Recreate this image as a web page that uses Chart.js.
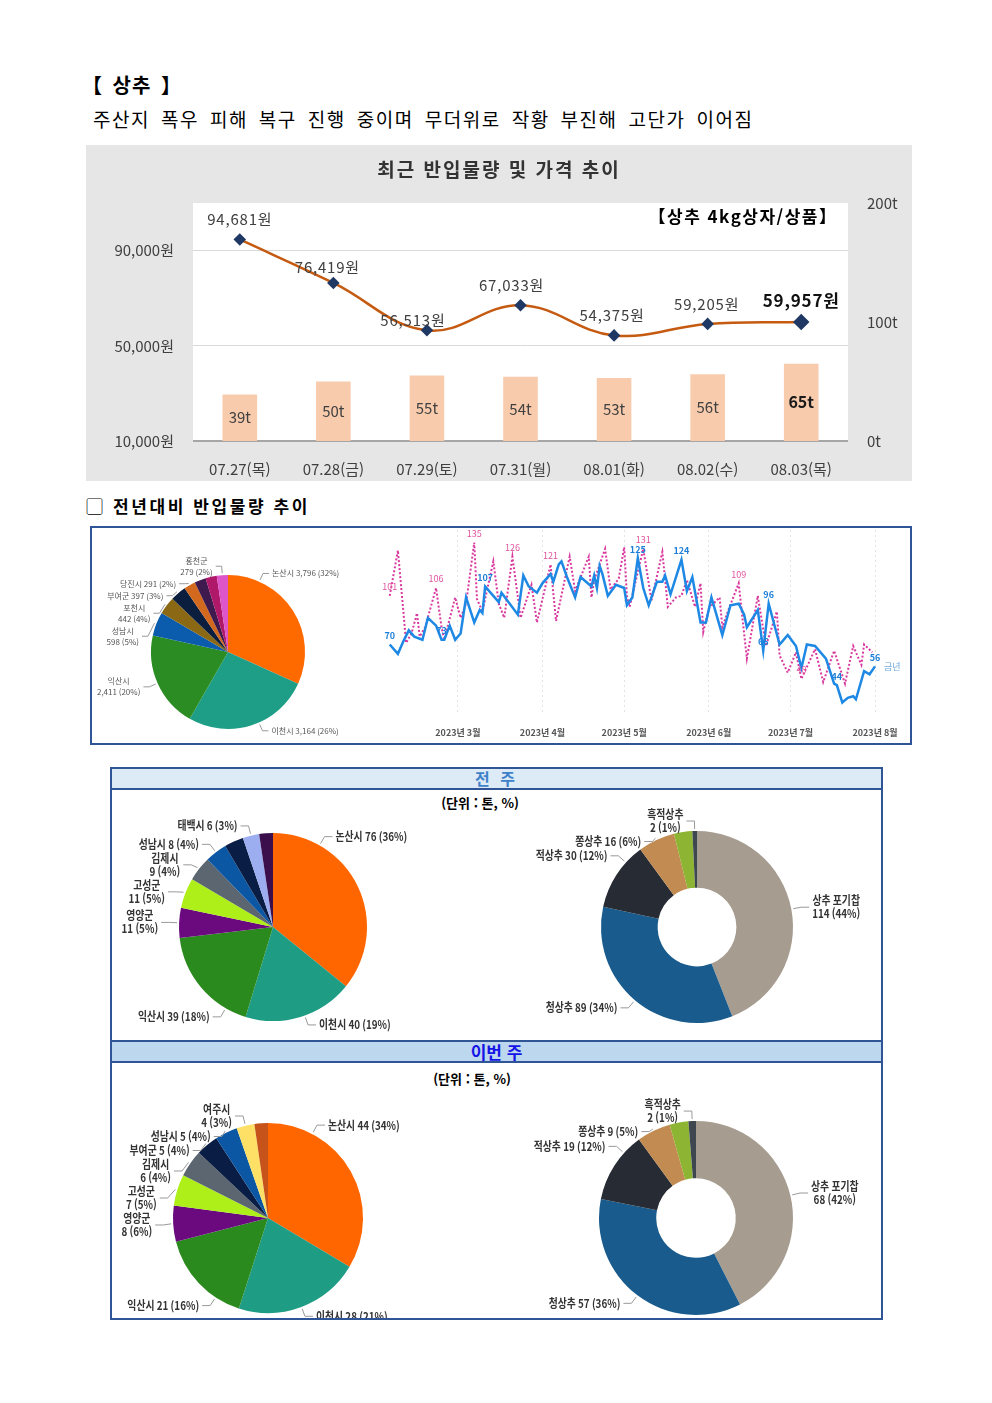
<!DOCTYPE html>
<html lang="ko">
<head>
<meta charset="utf-8">
<script src="https://cdn.jsdelivr.net/npm/chart.js@4.4.0/dist/chart.umd.min.js"></script>
<style>
  html, body { margin: 0; padding: 0; background: #fff; }
  body { width: 992px; height: 1403px; position: relative; font-family: 'Noto Sans CJK KR', 'Noto Sans', sans-serif; color: #000; }
  .abs { position: absolute; }
  .box { position: absolute; box-sizing: border-box; }
  #title { left: 82px; top: 72px; font-size: 20px; font-weight: bold; line-height: 26px; word-spacing: 3px; letter-spacing: 1px; }
  #sub { left: 93px; top: 106px; font-size: 19px; line-height: 26px; letter-spacing: 1.55px; word-spacing: 4px; }
  #grayBox { left: 86px; top: 145px; width: 826px; height: 336px; background: #E6E6E6; }
  #c1Title { left: 86px; width: 826px; top: 156px; text-align: center; font-size: 19px; font-weight: bold; line-height: 26px; letter-spacing: 2px; color: #333; z-index: 2; }
  #c1Tag { left: 620px; width: 246px; top: 203px; text-align: center; font-size: 17px; font-weight: bold; line-height: 26px; letter-spacing: 1.5px; z-index: 2; }
  #sec2 { left: 86px; top: 493px; font-size: 17px; font-weight: bold; line-height: 26px; letter-spacing: 2.6px; }
  #box2 { left: 90px; top: 526px; width: 822px; height: 219px; border: 2px solid #2F5597; }
  #box3 { left: 110px; top: 767px; width: 773px; height: 553px; border: 2px solid #2F5597; }
  .hdr { position: absolute; left: 112px; width: 769px; text-align: center; font-weight: bold; }
  #hdr1 { top: 769px; height: 19px; line-height: 19px; background: #DDEBF7; color: #3F82C9; font-size: 16px; letter-spacing: 3px; }
  #hdr2 { top: 1042px; height: 19px; line-height: 19px; background: #BDD7EE; color: #1414E6; font-size: 17px; }
  .rule { position: absolute; left: 110px; width: 773px; height: 2px; background: #2F5597; }
  .unit { position: absolute; font-size: 13px; font-weight: bold; line-height: 18px; text-align: center; width: 200px; }
  .wrap { position: absolute; }
</style>
</head>
<body>
<div id="title" class="abs">【 상추 】</div>
<div id="sub" class="abs">주산지 폭우 피해 복구 진행 중이며 무더위로 작황 부진해 고단가 이어짐</div>

<div id="grayBox" class="box"></div>
<div id="c1Title" class="abs">최근 반입물량 및 가격 추이</div>
<div id="c1Tag" class="abs">【상추 4kg상자/상품】</div>
<div class="wrap" style="left:86px;top:145px;width:826px;height:336px;"><canvas id="combo"></canvas></div>

<div id="sec2" class="abs">▢ 전년대비 반입물량 추이</div>
<div id="box2" class="box"></div>
<div class="wrap" style="left:92px;top:528px;width:290px;height:215px;"><canvas id="yearPie"></canvas></div>
<div class="wrap" style="left:383px;top:528px;width:527px;height:215px;"><canvas id="yearLine"></canvas></div>

<div id="box3" class="box"></div>
<div id="hdr1" class="hdr">전 주</div>
<div class="rule" style="top:788px;"></div>
<div class="unit" style="left:380px;top:794px;">(단위 : 톤, %)</div>
<div class="rule" style="top:1040px;"></div>
<div id="hdr2" class="hdr">이번 주</div>
<div class="rule" style="top:1061px;"></div>
<div class="unit" style="left:372px;top:1070px;">(단위 : 톤, %)</div>
<div class="wrap" style="left:112px;top:808px;width:360px;height:230px;"><canvas id="lastWeekPie"></canvas></div>
<div class="wrap" style="left:480px;top:808px;width:400px;height:230px;"><canvas id="lastWeekKind"></canvas></div>
<div class="wrap" style="left:112px;top:1085px;width:360px;height:233px;"><canvas id="thisWeekPie"></canvas></div>
<div class="wrap" style="left:480px;top:1085px;width:400px;height:233px;"><canvas id="thisWeekKind"></canvas></div>

<script>
// ---- 최근 반입물량 및 가격 추이 ----
const dayLabels = ['07.27(목)', '07.28(금)', '07.29(토)', '07.31(월)', '08.01(화)', '08.02(수)', '08.03(목)'];
const volumeTons = [39, 50, 55, 54, 53, 56, 65];
const pricesWon = [94681, 76419, 56513, 67033, 54375, 59205, 59957];
const priceTicks = [10000, 50000, 90000];

// ---- 전년대비 반입물량 (산지별 누적) ----
const yearRegions = ['논산시', '이천시', '익산시', '성남시', '포천시', '부여군', '당진시', '', '', '홍천군'];
const yearRegionTons = [3796, 3164, 2411, 598, 442, 397, 291, 285, 282, 279];
const yearRegionPct = [32, 26, 20, 5, 4, 3, 2, null, null, 2];

// ---- 전년대비 반입물량 추이 (일자: 3월 1일 = 0) ----
const monthTickDays = [0, 31, 61, 92, 122, 153];
const monthTickLabels = ['2023년 3월', '2023년 4월', '2023년 5월', '2023년 6월', '2023년 7월', '2023년 8월'];
const thisYearDays = [-25, -22, -20, -18, -16, -13, -11, -8, -6, -5, -3, -1, 1, 3, 6, 8, 9, 10, 13, 15, 16, 22, 24, 26, 29, 31,
  34, 35, 37, 38, 40, 43, 45, 49, 50, 51, 52, 53, 55, 58, 61, 62, 64, 66, 68, 70, 73, 75, 76, 78, 82, 84, 86, 89, 91, 93,
  97, 100, 103, 105, 106, 110, 112, 114, 118, 119, 121, 124, 126, 128, 131, 135, 138, 139, 141, 143, 145, 146, 149, 151, 153];
const thisYearTons = [70, 64, 72, 79, 75, 73, 87, 82, 73, 73, 82, 73, 77, 100, 84, 92, 90, 107, 101, 97, 103, 89, 114, 107, 103, 109,
  115, 110, 121, 123, 113, 100, 113, 107, 114, 106, 120, 115, 101, 108, 106, 95, 100, 125, 106, 95, 110, 110, 114, 102, 124, 104, 113, 84, 84, 100,
  76, 95, 96, 89, 81, 92, 66, 96, 70, 72, 76, 69, 55, 70, 69, 61, 45, 44, 33, 36, 37, 35, 53, 51, 56];
const lastYearDays = [-25, -22, -20, -19, -17, -15, -14, -12, -8, -6, -5, -1, 1, 3, 6, 7, 9, 13, 15, 17, 20, 23, 27, 29, 34, 36,
  41, 43, 48, 49, 50, 54, 56, 59, 61, 62, 63, 68, 71, 75, 77, 80, 82, 84, 87, 89, 90, 92, 96, 97, 99, 103, 106, 110, 113,
  117, 118, 121, 124, 126, 131, 134, 138, 142, 145, 148, 149, 152];
const lastYearTons = [101, 130, 91, 71, 77, 90, 75, 81, 106, 81, 73, 100, 87, 96, 135, 99, 91, 123, 96, 87, 126, 87, 108, 84, 121, 85,
  126, 104, 126, 100, 111, 131, 105, 112, 132, 101, 94, 131, 98, 129, 94, 100, 101, 111, 94, 109, 78, 93, 100, 81, 91, 109, 61, 101, 69,
  91, 63, 52, 65, 48, 67, 46, 66, 45, 69, 57, 70, 65];
const thisYearTagged = [-25, -6, 10, 66, 82, 112, 114, 139, 153];
const lastYearTagged = [-25, -8, 6, 20, 34, 68, 103, 126];

// ---- 전주 / 이번 주 산지별, 품종별 ----
const lastWeekRegions = ['논산시', '이천시', '익산시', '영양군', '고성군', '김제시', '성남시', '', '태백시', ''];
const lastWeekRegionTons = [76, 40, 39, 11, 11, 9, 8, 7, 6, 5];
const lastWeekRegionPct = [36, 19, 18, 5, 5, 4, 4, null, 3, null];
const lastWeekKinds = ['상추 포기찹', '청상추', '적상추', '쫑상추', '', '흑적상추'];
const lastWeekKindTons = [114, 89, 30, 16, 8, 2];
const lastWeekKindPct = [44, 34, 12, 6, null, 1];

const thisWeekRegions = ['논산시', '이천시', '익산시', '영양군', '고성군', '김제시', '부여군', '성남시', '여주시', ''];
const thisWeekRegionTons = [44, 28, 21, 8, 7, 6, 5, 5, 4, 3];
const thisWeekRegionPct = [34, 21, 16, 6, 5, 4, 4, 4, 3, null];
const thisWeekKinds = ['상추 포기찹', '청상추', '적상추', '쫑상추', '', '흑적상추'];
const thisWeekKindTons = [68, 57, 19, 9, 5, 2];
const thisWeekKindPct = [42, 36, 12, 5, null, 1];

const FONT = "'Noto Sans CJK KR', 'Noto Sans', sans-serif";
Chart.defaults.font.family = FONT;
Chart.defaults.animation = false;
Chart.defaults.plugins.legend.display = false;
Chart.defaults.plugins.tooltip.enabled = false;

const fmt = v => v.toLocaleString('en-US');

// 파이 조각 이름 + 값 + 비율 문자열 (wrap 목록에 있으면 두 줄)
function sliceTexts(names, vals, pcts, wrap) {
  return names.map((n, i) => n ? n + (wrap.includes(n) ? '\n' : ' ') + fmt(vals[i]) + ' (' + pcts[i] + '%)' : '');
}

// 파이 바깥 라벨 + 지시선 (anchor: 조각 안에서 지시선이 붙는 위치, 기본 0.5)
const outLabels = {
  id: 'outLabels',
  afterDatasetsDraw(chart, args, o) {
    if (!o || !o.texts) return;
    const ctx = chart.ctx;
    const items = [];
    chart.getDatasetMeta(0).data.forEach((arc, i) => {
      const t = o.texts[i];
      if (!t) return;
      const f = o.anchor && o.anchor[i] != null ? o.anchor[i] : 0.5;
      const a = arc.startAngle + (arc.endAngle - arc.startAngle) * f;
      const r = arc.outerRadius;
      const c = Math.cos(a), s = Math.sin(a);
      items.push({
        right: c >= 0,
        lines: t.split('\n'),
        x0: arc.x + c * (r + 2), y0: arc.y + s * (r + 2),
        x1: arc.x + c * (r + o.elbow), y: arc.y + s * (r + o.elbow)
      });
    });
    [true, false].forEach(side => {
      const list = items.filter(it => it.right === side).sort((p, q) => p.y - q.y);
      for (let k = 1; k < list.length; k++) {
        const gap = (list[k - 1].lines.length + list[k].lines.length) / 2 * o.lineHeight + 1;
        if (list[k].y - list[k - 1].y < gap) list[k].y = list[k - 1].y + gap;
      }
    });
    ctx.save();
    ctx.strokeStyle = o.lineColor;
    ctx.lineWidth = 1;
    ctx.fillStyle = o.color;
    ctx.font = o.font;
    ctx.textAlign = 'center';
    ctx.textBaseline = 'middle';
    items.forEach(it => {
      const dir = it.right ? 1 : -1;
      const x2 = it.x1 + dir * o.arm;
      ctx.beginPath();
      ctx.moveTo(it.x0, it.y0);
      ctx.lineTo(it.x1, it.y);
      ctx.lineTo(x2, it.y);
      ctx.stroke();
      const w = Math.max(...it.lines.map(l => ctx.measureText(l).width)) * o.squeeze;
      const cx = x2 + dir * (3 + w / 2);
      it.lines.forEach((l, k) => {
        const ly = it.y + (k - (it.lines.length - 1) / 2) * o.lineHeight;
        ctx.save();
        ctx.translate(cx, ly);
        ctx.scale(o.squeeze, 1);
        ctx.fillText(l, 0, 0);
        ctx.restore();
      });
    });
    ctx.restore();
  }
};

// 막대/선 값 표시
const priceLift = [20, 16, 10, 20, 20, 20, 22];
const priceShift = [0, -6, -14, -9, -2, -1, 0];
const comboLabels = {
  id: 'comboLabels',
  afterDatasetsDraw(chart) {
    const ctx = chart.ctx;
    ctx.save();
    ctx.textAlign = 'center';
    ctx.textBaseline = 'middle';
    const bars = chart.getDatasetMeta(1).data;
    bars.forEach((b, i) => {
      const last = i === bars.length - 1;
      ctx.font = (last ? 'bold 16px ' : '15px ') + FONT;
      ctx.fillStyle = last ? '#1a1a1a' : '#404040';
      ctx.fillText(volumeTons[i] + 't', b.x, (b.y + b.base) / 2);
    });
    const pts = chart.getDatasetMeta(0).data;
    ctx.letterSpacing = '0.8px';
    pts.forEach((p, i) => {
      const last = i === pts.length - 1;
      ctx.font = (last ? 'bold 17px ' : '15px ') + FONT;
      ctx.fillStyle = last ? '#111' : '#404040';
      ctx.fillText(fmt(pricesWon[i]) + '원', p.x + priceShift[i], p.y - priceLift[i]);
    });
    ctx.restore();
  }
};

new Chart(document.getElementById('combo'), {
  type: 'bar',
  data: {
    labels: dayLabels,
    datasets: [{
      type: 'line',
      data: pricesWon,
      yAxisID: 'y',
      order: 0,
      borderColor: '#C55A11',
      borderWidth: 2.5,
      tension: 0.4,
      pointStyle: 'rectRot',
      pointRadius: [4.5, 4.5, 4.5, 4.5, 4.5, 4.5, 6.5],
      pointBackgroundColor: '#1F3864',
      pointBorderColor: '#1F3864'
    }, {
      type: 'bar',
      data: volumeTons,
      yAxisID: 'y1',
      order: 1,
      backgroundColor: '#F8CBAD',
      barPercentage: 0.37,
      categoryPercentage: 1
    }]
  },
  options: {
    responsive: true,
    maintainAspectRatio: false,
    layout: { padding: { top: 58, left: 0, right: 0, bottom: 0 } },
    scales: {
      x: {
        afterFit: s => { s.height = 40; },
        grid: { display: false },
        border: { display: false },
        ticks: { font: { size: 15 }, color: '#404040', padding: 11 }
      },
      y: {
        position: 'left',
        min: 10000, max: 110000,
        afterBuildTicks: s => { s.ticks = priceTicks.map(v => ({ value: v })); },
        afterFit: s => { s.width = 107; },
        grid: {
          color: c => (c.tick && c.tick.value === 10000 ? '#A6A6A6' : '#D9D9D9'),
          lineWidth: c => (c.tick && c.tick.value === 10000 ? 2 : 1),
          drawTicks: false
        },
        border: { display: false },
        ticks: { callback: v => fmt(v) + '원', font: { size: 15 }, color: '#404040', padding: 19 }
      },
      y1: {
        position: 'right',
        min: 0, max: 200,
        ticks: { stepSize: 100, callback: v => v + 't', font: { size: 15 }, color: '#404040', padding: 19 },
        afterFit: s => { s.width = 64; },
        grid: { display: false, drawTicks: false },
        border: { display: false }
      }
    }
  },
  plugins: [comboLabels, {
    id: 'plotBg',
    beforeDraw(chart) {
      const a = chart.chartArea, ctx = chart.ctx;
      ctx.save();
      ctx.fillStyle = '#fff';
      ctx.fillRect(a.left, a.top, a.right - a.left, a.bottom - a.top);
      ctx.restore();
    }
  }]
});

// 전년대비 산지별 파이
new Chart(document.getElementById('yearPie'), {
  type: 'pie',
  data: {
    labels: yearRegions,
    datasets: [{
      data: yearRegionTons,
      backgroundColor: ['#FF6A00', '#1E9E86', '#2A8C22', '#0B5CAD', '#8B6914', '#0C1E3E', '#D2691E', '#3E1A4E', '#B0186A', '#DD55C8'],
      borderWidth: 0
    }]
  },
  options: {
    responsive: true,
    maintainAspectRatio: false,
    layout: { padding: { top: 47, bottom: 14, left: 59, right: 77 } },
    plugins: {
      outLabels: {
        texts: sliceTexts(yearRegions, yearRegionTons, yearRegionPct, ['익산시', '성남시', '포천시', '홍천군']),
        anchor: [0.21, 0.44],
        font: '8px ' + FONT, color: '#555', lineColor: '#999', lineHeight: 11, elbow: 9, arm: 6, squeeze: 1
      }
    }
  },
  plugins: [outLabels]
});

// 전년대비 추이 (금년 / 전년)
const pointTags = {
  id: 'pointTags',
  afterDatasetsDraw(chart) {
    const ctx = chart.ctx;
    ctx.save();
    ctx.textAlign = 'center';
    ctx.textBaseline = 'middle';
    const sets = [
      { idx: 1, days: lastYearTagged, font: '9px ' + FONT, color: '#E0559F' },
      { idx: 0, days: thisYearTagged, font: 'bold 9px ' + FONT, color: '#1E7FD8' }
    ];
    sets.forEach(s => {
      const ds = chart.data.datasets[s.idx];
      const meta = chart.getDatasetMeta(s.idx);
      ctx.font = s.font;
      ctx.fillStyle = s.color;
      s.days.forEach(d => {
        const i = ds.data.findIndex(p => p.x === d);
        if (i < 0) return;
        const el = meta.data[i];
        ctx.fillText(String(ds.data[i].y), el.x, el.y - 9);
      });
    });
    const meta0 = chart.getDatasetMeta(0).data;
    const tail = meta0[meta0.length - 1];
    ctx.font = '9px ' + FONT;
    ctx.fillStyle = '#6FA8DC';
    ctx.textAlign = 'left';
    ctx.fillText('금년', tail.x + 9, tail.y);
    ctx.restore();
  }
};

new Chart(document.getElementById('yearLine'), {
  type: 'line',
  data: {
    datasets: [{
      data: thisYearDays.map((d, i) => ({ x: d, y: thisYearTons[i] })),
      borderColor: '#1E88E5',
      borderWidth: 2.5,
      pointRadius: 0,
      tension: 0
    }, {
      data: lastYearDays.map((d, i) => ({ x: d, y: lastYearTons[i] })),
      borderColor: '#D9399E',
      borderWidth: 2,
      borderDash: [2, 2],
      pointRadius: 0,
      tension: 0
    }]
  },
  options: {
    responsive: true,
    maintainAspectRatio: false,
    layout: { padding: { top: 2, left: 4, right: 25, bottom: 0 } },
    scales: {
      x: {
        type: 'linear',
        min: -26, max: 156,
        afterBuildTicks: s => { s.ticks = monthTickDays.map(v => ({ value: v })); },
        afterFit: s => { s.height = 28; },
        grid: { color: '#E3E3E3', drawTicks: false },
        border: { display: false, dash: [2, 3] },
        ticks: {
          callback: v => monthTickLabels[monthTickDays.indexOf(v)],
          font: { size: 9, weight: 'bold' }, color: '#555', padding: 12, maxRotation: 0
        }
      },
      y: { display: false, min: 25, max: 143 }
    }
  },
  plugins: [pointTags]
});

const regionColors = ['#FF6600', '#1F9C84', '#2B8A1E', '#6A0A7E', '#AEEF1A', '#5B6670', '#0B57A4', '#0A1D45', '#9CAEF0', '#3A0F4C'];
const regionColors2 = ['#FF6600', '#1F9C84', '#2B8A1E', '#6A0A7E', '#AEEF1A', '#5B6670', '#0A1D45', '#0B57A4', '#FFE066', '#C5531A'];
const kindColors = ['#A69C90', '#185B8C', '#272B33', '#C28B51', '#8DB432', '#3E4650'];
const bigLabel = { font: 'bold 12px ' + FONT, color: '#333', lineColor: '#999', lineHeight: 13, elbow: 10, arm: 8, squeeze: 0.82 };

function pieChart(id, type, names, vals, pcts, colors, wrap, pad, cutout, anchor) {
  new Chart(document.getElementById(id), {
    type: type,
    data: { labels: names, datasets: [{ data: vals, backgroundColor: colors, borderWidth: 0 }] },
    options: {
      responsive: true,
      maintainAspectRatio: false,
      cutout: cutout,
      layout: { padding: pad },
      plugins: { outLabels: Object.assign({ texts: sliceTexts(names, vals, pcts, wrap), anchor: anchor }, bigLabel) }
    },
    plugins: [outLabels]
  });
}

pieChart('lastWeekPie', 'pie', lastWeekRegions, lastWeekRegionTons, lastWeekRegionPct, regionColors,
  ['영양군', '고성군', '김제시'], { left: 67, right: 105, top: 25, bottom: 17 }, 0, [0.23, 0.46, 0.2]);
pieChart('lastWeekKind', 'doughnut', lastWeekKinds, lastWeekKindTons, lastWeekKindPct, kindColors,
  ['상추 포기찹', '흑적상추'], { left: 121, right: 87, top: 23, bottom: 15 }, '41%', [0.5, 0.5, 0.72]);
pieChart('thisWeekPie', 'pie', thisWeekRegions, thisWeekRegionTons, thisWeekRegionPct, regionColors2,
  ['여주시', '김제시', '고성군', '영양군'], { left: 61, right: 109, top: 38, bottom: 5 }, 0, [0.23, 0.5, 0.27]);
pieChart('thisWeekKind', 'doughnut', thisWeekKinds, thisWeekKindTons, thisWeekKindPct, kindColors,
  ['상추 포기찹', '흑적상추'], { left: 119, right: 87, top: 36, bottom: 3 }, '41%', [0.5, 0.5, 0.72]);
</script>
</body>
</html>
